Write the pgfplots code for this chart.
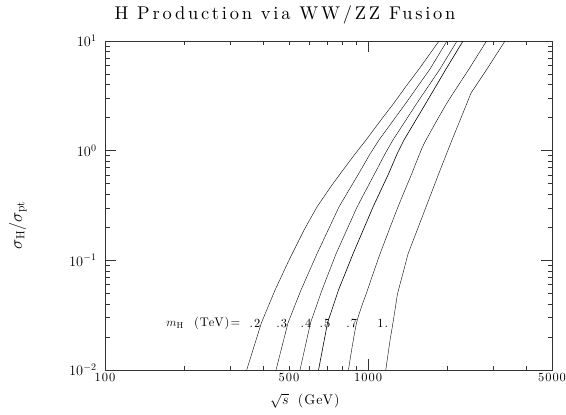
\documentclass[border=0pt]{standalone}
\usepackage{fontspec}
\usepackage{pgfplots}
\pgfplotsset{compat=1.18}
\newfontfamily\titlefont[Extension=.otf, LetterSpace=15]{lmroman10-regular}
\newfontfamily\labelfont[Extension=.otf, LetterSpace=8]{lmroman10-regular}
\begin{document}
\begin{tikzpicture}[x=1bp,y=1bp]
\useasboundingbox (-105,-44) rectangle (461,370);
\begin{loglogaxis}[
  at={(0,0)}, anchor=south west, scale only axis,
  width=447bp, height=329bp,
  xmin=100, xmax=5000, ymin=0.01, ymax=10,
  axis line style={line width=0.6pt, black!80},
  tick style={line width=0.5pt, black!80},
  major tick length=11bp, minor tick length=4.5bp,
  xtick={100,1000}, xticklabels={100,1000},
  extra x ticks={500,5000}, extra x tick labels={500,5000},
  extra x tick style={major tick length=4.5bp},
  minor xtick={200,300,400,600,700,800,900,2000,3000,4000},
  ytick={0.01,0.1,1,10},
  minor ytick={0.02,0.03,0.04,0.05,0.06,0.07,0.08,0.09,0.2,0.3,0.4,0.5,0.6,0.7,0.8,0.9,2,3,4,5,6,7,8,9},
  yticklabel style={font=\fontsize{14.5}{16}\selectfont, xshift=-5bp},
  xticklabel style={font=\labelfont\fontsize{12.5}{14}\selectfont, yshift=0bp},
  xlabel={$\sqrt{s}$\ \ {\labelfont(GeV)}},
  xlabel style={font=\fontsize{14}{16}\selectfont, at={(axis description cs:0.447,-0.094)}, anchor=center},
  ylabel={$\sigma_{\rm H}/\sigma_{\rm pt}$},
  ylabel style={font=\fontsize{17}{19}\selectfont, at={(axis description cs:-0.195,0.44)}, anchor=center},
  cycle list={{black, solid, mark=none, line width=0.6pt, smooth, tension=0.4}},
]
% m_H = 0.2 TeV
\addplot coordinates {(345.6,0.01) (393,0.0269) (443,0.0537) (505,0.1051) (571,0.1893) (639,0.3067) (729,0.4867) (803,0.6669) (892,0.933) (982,1.252) (1119,1.905) (1254,2.721) (1405,3.971) (1562,5.556) (1860,10)};
% m_H = 0.3 TeV
\addplot coordinates {(446.7,0.01) (496,0.0269) (556,0.0537) (639,0.1144) (775,0.3067) (924,0.6262) (1017,0.933) (1100,1.252) (1393,2.721) (1719,5.556) (1995,10)};
% m_H = 0.4 TeV
\addplot coordinates {(551,0.01) (604,0.0269) (668,0.0537) (755,0.1144) (908,0.3067) (1062,0.6262) (1159,0.933) (1243,1.252) (1534,2.721) (1876,5.556) (2177,10)};
% m_H = 0.5 TeV
\addplot coordinates {(648,0.01) (701,0.0269) (772,0.0537) (876,0.1144) (1044,0.3067) (1200,0.6262) (1288,0.933) (1369,1.252) (1660,2.721) (1978,5.556) (2295,10)};
% m_H = 0.7 TeV
\addplot coordinates {(842,0.01) (904,0.0269) (995,0.0537) (1110,0.1144) (1299,0.3067) (1469,0.6262) (1569,0.933) (1660,1.252) (1995,2.721) (2418,5.556) (2818,10)};
% m_H = 1 TeV
\addplot coordinates {(1167,0.01) (1212,0.0188) (1243,0.0269) (1293,0.0494) (1418,0.1144) (1660,0.3067) (1860,0.6262) (2084,1.252) (2377,2.721) (2461,3.357) (2831,5.556) (3314,10)};
\begin{scope}[font=\labelfont\fontsize{12.5}{15}\selectfont]
\node[anchor=east, inner sep=1bp] at (axis cs:330,0.0268) {$m_{\rm H}$\ \ (TeV)=};
\node at (axis cs:371.5,0.0268) {.2};
\node at (axis cs:469.6,0.0268) {.3};
\node at (axis cs:580.7,0.0268) {.4};
\node at (axis cs:685.9,0.0268) {.5};
\node at (axis cs:866.4,0.0268) {.7};
\node at (axis cs:1136.5,0.0268) {1.};
\end{scope}
\end{loglogaxis}
\node[font=\titlefont\fontsize{18.5}{21}\selectfont] at (180,355) {H Production via WW/ZZ Fusion};
\end{tikzpicture}
\end{document}
